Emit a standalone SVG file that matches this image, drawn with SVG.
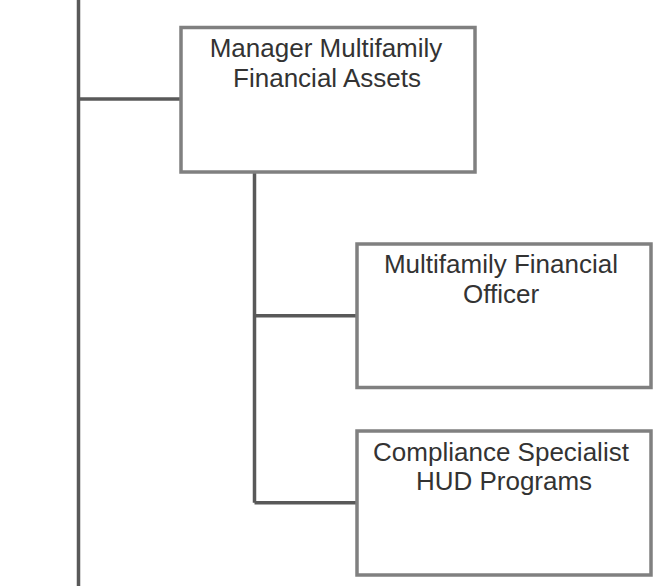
<svg xmlns="http://www.w3.org/2000/svg" width="657" height="586" viewBox="0 0 657 586">
<style>
.box{fill:#ffffff;stroke:#808080;stroke-width:3.5}
.conn{fill:none;stroke:#595959;stroke-width:3.5}
.lbl{font-family:"Liberation Sans",Arial,sans-serif;font-size:26px;fill:#333333;text-anchor:middle}
</style>
<rect width="657" height="586" fill="#ffffff"/>
<g id="connectors">
<path class="conn" d="M78.5,0 V586"/>
<path class="conn" d="M78.5,99 H181"/>
<path class="conn" d="M254.5,172 V502.7"/>
<path class="conn" d="M254.5,315.7 H357"/>
<path class="conn" d="M254.5,502.7 H357"/>
</g>
<g id="node-manager">
<rect class="box" x="181" y="27.5" width="294" height="144.5"/>
<text class="lbl" x="326" y="57">Manager Multifamily</text>
<text class="lbl" x="327" y="86.5">Financial Assets</text>
</g>
<g id="node-officer">
<rect class="box" x="357" y="244" width="294" height="143.5"/>
<text class="lbl" x="501" y="273">Multifamily Financial</text>
<text class="lbl" x="501" y="302.5">Officer</text>
</g>
<g id="node-compliance">
<rect class="box" x="357" y="431" width="294" height="144"/>
<text class="lbl" x="501" y="461">Compliance Specialist</text>
<text class="lbl" x="504" y="490">HUD Programs</text>
</g>
</svg>
